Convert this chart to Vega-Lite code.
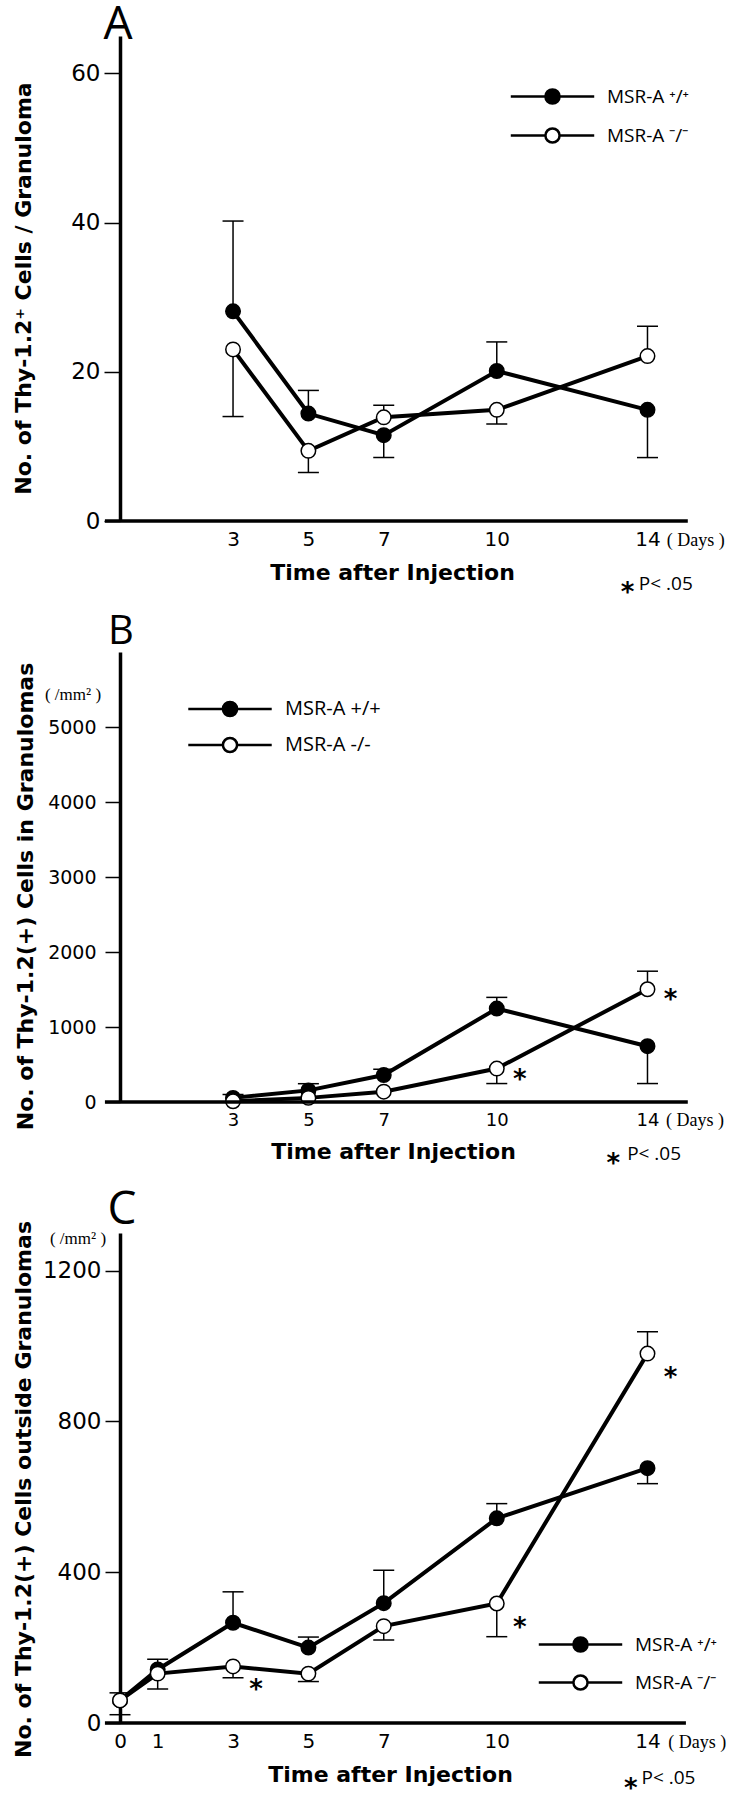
{
  "$schema": "https://vega.github.io/schema/vega-lite/v6.json",
  "background": "white",
  "padding": {"left": 11, "top": 2, "right": 0, "bottom": 0},
  "config": {
    "view": {"stroke": null},
    "font": "DejaVu Sans",
    "axis": {"grid": false, "domainColor": "black", "tickColor": "black", "labelColor": "black", "titleColor": "black"},
    "legend": {"padding": 0}
  },
  "datasets": {
    "A": [
      {"day": 3, "series": "+/+", "value": 28.1, "err": 40.2, "sig": false},
      {"day": 5, "series": "+/+", "value": 14.4, "err": 17.5, "sig": false},
      {"day": 7, "series": "+/+", "value": 11.5, "err": 8.5, "sig": false},
      {"day": 10, "series": "+/+", "value": 20.1, "err": 24.0, "sig": false},
      {"day": 14, "series": "+/+", "value": 14.9, "err": 8.5, "sig": false},
      {"day": 3, "series": "-/-", "value": 23.0, "err": 14.0, "sig": false},
      {"day": 5, "series": "-/-", "value": 9.4, "err": 6.5, "sig": false},
      {"day": 7, "series": "-/-", "value": 13.9, "err": 15.5, "sig": false},
      {"day": 10, "series": "-/-", "value": 14.9, "err": 13.0, "sig": false},
      {"day": 14, "series": "-/-", "value": 22.1, "err": 26.1, "sig": false}
    ],
    "B": [
      {"day": 3, "series": "+/+", "value": 55, "err": 100, "sig": false},
      {"day": 5, "series": "+/+", "value": 155, "err": 244, "sig": false},
      {"day": 7, "series": "+/+", "value": 359, "err": 436, "sig": false},
      {"day": 10, "series": "+/+", "value": 1246, "err": 1395, "sig": false},
      {"day": 14, "series": "+/+", "value": 744, "err": 246, "sig": false},
      {"day": 3, "series": "-/-", "value": 10, "err": null, "sig": false},
      {"day": 5, "series": "-/-", "value": 55, "err": null, "sig": false},
      {"day": 7, "series": "-/-", "value": 138, "err": null, "sig": false},
      {"day": 10, "series": "-/-", "value": 446, "err": 246, "sig": true},
      {"day": 14, "series": "-/-", "value": 1503, "err": 1744, "sig": true}
    ],
    "C": [
      {"day": 0, "series": "+/+", "value": 60, "err": 80, "sig": false},
      {"day": 1, "series": "+/+", "value": 142, "err": 169, "sig": false},
      {"day": 3, "series": "+/+", "value": 266, "err": 348, "sig": false},
      {"day": 5, "series": "+/+", "value": 200, "err": 228, "sig": false},
      {"day": 7, "series": "+/+", "value": 318, "err": 405, "sig": false},
      {"day": 10, "series": "+/+", "value": 543, "err": 582, "sig": false},
      {"day": 14, "series": "+/+", "value": 676, "err": 635, "sig": false},
      {"day": 0, "series": "-/-", "value": 60, "err": 22, "sig": false},
      {"day": 1, "series": "-/-", "value": 131, "err": 90, "sig": false},
      {"day": 3, "series": "-/-", "value": 150, "err": 120, "sig": true},
      {"day": 5, "series": "-/-", "value": 131, "err": 110, "sig": false},
      {"day": 7, "series": "-/-", "value": 257, "err": 220, "sig": false},
      {"day": 10, "series": "-/-", "value": 317, "err": 229, "sig": true},
      {"day": 14, "series": "-/-", "value": 980, "err": 1038, "sig": true}
    ]
  },
  "bounds": "flush",
  "spacing": 131,
  "resolve": {"scale": {"fill": "independent"}, "legend": {"fill": "independent"}},
  "vconcat": [
    {
      "width": 584,
      "height": 485,
      "data": {"name": "A"},
      "encoding": {
        "x": {"field": "day", "type": "quantitative", "scale": {"domain": [0, 15.5], "nice": false, "zero": false},
          "axis": {"values": [3, 5, 7, 10, 14], "domain": false, "ticks": false, "labelFont": "DejaVu Sans", "labelFontSize": 20, "labelPadding": 8, "labelFlush": false, "labelOverlap": false,
            "title": "Time after Injection", "titleFont": "DejaVu Sans", "titleFontWeight": "bold", "titleFontSize": 22, "titleX": 272, "titleY": 58, "titleBaseline": "alphabetic"}},
        "y": {"field": "value", "type": "quantitative", "scale": {"domain": [0, 65], "nice": false},
          "axis": {"values": [0, 20, 40, 60], "format": "d", "domainWidth": 3.5, "tickSize": 16, "tickWidth": 1.5, "labelFont": "DejaVu Sans", "labelFontSize": 23, "labelPadding": 4,
            "title": "No. of Thy-1.2⁺ Cells / Granuloma", "titleFont": "DejaVu Sans", "titleFontWeight": "bold", "titleFontSize": 22, "titleX": -90, "titleY": 252, "titleBaseline": "alphabetic"}}
      },
      "layer": [
        {"transform": [{"filter": "datum.err != null"}], "mark": {"type": "rule", "strokeWidth": 1.5, "color": "black"},
          "encoding": {"y2": {"field": "err"}}},
        {"transform": [{"filter": "datum.err != null"}], "mark": {"type": "tick", "orient": "horizontal", "size": 21, "thickness": 1.5, "color": "black", "opacity": 1},
          "encoding": {"y": {"field": "err", "type": "quantitative"}}},
        {"mark": {"type": "line", "strokeWidth": 4, "color": "black"}, "encoding": {"detail": {"field": "series"}}},
        {"mark": {"type": "point", "shape": "circle", "filled": true, "stroke": "black", "strokeWidth": 1.5, "size": 210, "opacity": 1},
          "encoding": {"fill": {"field": "series", "type": "nominal", "scale": {"domain": ["+/+", "-/-"], "range": ["black", "white"]},
            "legend": {"orient": "none", "legendX": 423, "legendY": 51, "title": null, "direction": "vertical",
              "symbolType": "M-5.9,0H-1M1,0H5.9M1,0A1,1,0,1,1,-1,0A1,1,0,1,1,1,0Z", "symbolSize": 200, "symbolStrokeColor": "black", "symbolStrokeWidth": 2.5,
              "labelFont": "Open Sans", "labelFontSize": 19, "labelColor": "black", "labelOffset": 45, "rowPadding": 14,
              "labelExpr": "'MSR-A ' + (datum.label == '+/+' ? '⁺/⁺' : '⁻/⁻')"}}}},
        {"transform": [{"filter": "datum.day == 3 && datum.series == '+/+'"}], "mark": {"type": "rule", "strokeWidth": 3.5, "color": "black"},
          "encoding": {"x": {"datum": -0.4}, "x2": {"datum": 15.07}, "y": {"datum": 0}}},
        {"transform": [{"filter": "datum.day == 3 && datum.series == '+/+'"}], "mark": {"type": "text", "text": "A", "font": "Open Sans", "fontSize": 46, "dx": -2, "dy": 3, "align": "center", "baseline": "alphabetic", "color": "black"},
          "encoding": {"x": {"datum": 0}, "y": {"datum": 65}}},
        {"transform": [{"filter": "datum.day == 3 && datum.series == '+/+'"}], "mark": {"type": "text", "text": "( Days )", "font": "Liberation Serif", "fontSize": 18, "dy": 20, "align": "center", "baseline": "middle", "color": "black"},
          "encoding": {"x": {"datum": 15.28}, "y": {"datum": 0}}},
        {"transform": [{"filter": "datum.day == 3 && datum.series == '+/+'"}], "mark": {"type": "text", "text": "*", "font": "DejaVu Sans", "fontWeight": "bold", "fontSize": 26, "dy": 72, "align": "center", "baseline": "middle", "color": "black"},
          "encoding": {"x": {"datum": 13.47}, "y": {"datum": 0}}},
        {"transform": [{"filter": "datum.day == 3 && datum.series == '+/+'"}], "mark": {"type": "text", "text": "P< .05", "font": "Open Sans", "fontSize": 19, "dy": 63, "align": "left", "baseline": "middle", "color": "black"},
          "encoding": {"x": {"datum": 13.77}, "y": {"datum": 0}}}
      ]
    },
    {
      "width": 584,
      "height": 450,
      "data": {"name": "B"},
      "encoding": {
        "x": {"field": "day", "type": "quantitative", "scale": {"domain": [0, 15.5], "nice": false, "zero": false},
          "axis": {"values": [3, 5, 7, 10, 14], "domain": false, "ticks": false, "labelFont": "DejaVu Sans", "labelFontSize": 18, "labelPadding": 9, "labelFlush": false, "labelOverlap": false,
            "title": "Time after Injection", "titleFont": "DejaVu Sans", "titleFontWeight": "bold", "titleFontSize": 22, "titleX": 273, "titleY": 56, "titleBaseline": "alphabetic"}},
        "y": {"field": "value", "type": "quantitative", "scale": {"domain": [0, 6000], "nice": false},
          "axis": {"values": [0, 1000, 2000, 3000, 4000, 5000], "format": "d", "domainWidth": 3.5, "tickSize": 15, "tickWidth": 1.5, "labelFont": "DejaVu Sans", "labelFontSize": 19, "labelPadding": 9,
            "title": "No. of Thy-1.2(+) Cells in Granulomas", "titleFont": "DejaVu Sans", "titleFontWeight": "bold", "titleFontSize": 22, "titleX": -88, "titleY": 244, "titleBaseline": "alphabetic"}}
      },
      "layer": [
        {"transform": [{"filter": "datum.err != null"}], "mark": {"type": "rule", "strokeWidth": 1.5, "color": "black"},
          "encoding": {"y2": {"field": "err"}}},
        {"transform": [{"filter": "datum.err != null"}], "mark": {"type": "tick", "orient": "horizontal", "size": 21, "thickness": 1.5, "color": "black", "opacity": 1},
          "encoding": {"y": {"field": "err", "type": "quantitative"}}},
        {"mark": {"type": "line", "strokeWidth": 4, "color": "black"}, "encoding": {"detail": {"field": "series"}}},
        {"mark": {"type": "point", "shape": "circle", "filled": true, "stroke": "black", "strokeWidth": 1.5, "size": 210, "opacity": 1},
          "encoding": {"fill": {"field": "series", "type": "nominal", "scale": {"domain": ["+/+", "-/-"], "range": ["black", "white"]},
            "legend": {"orient": "none", "legendX": 100, "legendY": 47, "title": null, "direction": "vertical",
              "symbolType": "M-5.9,0H-1M1,0H5.9M1,0A1,1,0,1,1,-1,0A1,1,0,1,1,1,0Z", "symbolSize": 200, "symbolStrokeColor": "black", "symbolStrokeWidth": 2.5,
              "labelFont": "Open Sans", "labelFontSize": 20, "labelColor": "black", "labelOffset": 45, "rowPadding": 10,
              "labelExpr": "'MSR-A ' + datum.label"}}}},
        {"transform": [{"filter": "datum.sig"}], "mark": {"type": "text", "text": "*", "font": "DejaVu Sans", "fontWeight": "bold", "fontSize": 26, "dx": 23, "dy": 11, "align": "center", "baseline": "middle", "color": "black"}},
        {"transform": [{"filter": "datum.day == 3 && datum.series == '+/+'"}], "mark": {"type": "rule", "strokeWidth": 3.5, "color": "black"},
          "encoding": {"x": {"datum": -0.4}, "x2": {"datum": 15.07}, "y": {"datum": 0}}},
        {"transform": [{"filter": "datum.day == 3 && datum.series == '+/+'"}], "mark": {"type": "text", "text": "B", "font": "Open Sans", "fontSize": 40, "dx": 1, "dy": -8, "align": "center", "baseline": "alphabetic", "color": "black"},
          "encoding": {"x": {"datum": 0}, "y": {"datum": 6000}}},
        {"transform": [{"filter": "datum.day == 3 && datum.series == '+/+'"}], "mark": {"type": "text", "text": "( Days )", "font": "Liberation Serif", "fontSize": 18, "dy": 19, "align": "center", "baseline": "middle", "color": "black"},
          "encoding": {"x": {"datum": 15.26}, "y": {"datum": 0}}},
        {"transform": [{"filter": "datum.day == 3 && datum.series == '+/+'"}], "mark": {"type": "text", "text": "( /mm² )", "font": "Liberation Serif", "fontSize": 17, "dx": -47, "align": "center", "baseline": "middle", "color": "black"},
          "encoding": {"x": {"datum": 0}, "y": {"datum": 5421}}},
        {"transform": [{"filter": "datum.day == 3 && datum.series == '+/+'"}], "mark": {"type": "text", "text": "*", "font": "DejaVu Sans", "fontWeight": "bold", "fontSize": 26, "dy": 62, "align": "center", "baseline": "middle", "color": "black"},
          "encoding": {"x": {"datum": 13.09}, "y": {"datum": 0}}},
        {"transform": [{"filter": "datum.day == 3 && datum.series == '+/+'"}], "mark": {"type": "text", "text": "P< .05", "font": "Open Sans", "fontSize": 19, "dy": 52, "align": "left", "baseline": "middle", "color": "black"},
          "encoding": {"x": {"datum": 13.46}, "y": {"datum": 0}}}
      ]
    },
    {
      "width": 584,
      "height": 490,
      "data": {"name": "C"},
      "encoding": {
        "x": {"field": "day", "type": "quantitative", "scale": {"domain": [0, 15.5], "nice": false, "zero": false},
          "axis": {"values": [0, 1, 3, 5, 7, 10, 14], "domain": false, "ticks": false, "labelFont": "DejaVu Sans", "labelFontSize": 20, "labelPadding": 8, "labelFlush": false, "labelOverlap": false,
            "title": "Time after Injection", "titleFont": "DejaVu Sans", "titleFontWeight": "bold", "titleFontSize": 22, "titleX": 270, "titleY": 58, "titleBaseline": "alphabetic"}},
        "y": {"field": "value", "type": "quantitative", "scale": {"domain": [0, 1300], "nice": false},
          "axis": {"values": [0, 400, 800, 1200], "format": "d", "domainWidth": 3.5, "tickSize": 15, "tickWidth": 1.5, "labelFont": "DejaVu Sans", "labelFontSize": 23, "labelPadding": 4,
            "title": "No. of Thy-1.2(+) Cells outside Granulomas", "titleFont": "DejaVu Sans", "titleFontWeight": "bold", "titleFontSize": 22, "titleX": -90, "titleY": 256, "titleBaseline": "alphabetic"}}
      },
      "layer": [
        {"transform": [{"filter": "datum.err != null"}], "mark": {"type": "rule", "strokeWidth": 1.5, "color": "black"},
          "encoding": {"y2": {"field": "err"}}},
        {"transform": [{"filter": "datum.err != null"}], "mark": {"type": "tick", "orient": "horizontal", "size": 21, "thickness": 1.5, "color": "black", "opacity": 1},
          "encoding": {"y": {"field": "err", "type": "quantitative"}}},
        {"mark": {"type": "line", "strokeWidth": 4, "color": "black"}, "encoding": {"detail": {"field": "series"}}},
        {"mark": {"type": "point", "shape": "circle", "filled": true, "stroke": "black", "strokeWidth": 1.5, "size": 210, "opacity": 1},
          "encoding": {"fill": {"field": "series", "type": "nominal", "scale": {"domain": ["+/+", "-/-"], "range": ["black", "white"]},
            "legend": {"orient": "none", "legendX": 451, "legendY": 402, "title": null, "direction": "vertical",
              "symbolType": "M-5.9,0H-1M1,0H5.9M1,0A1,1,0,1,1,-1,0A1,1,0,1,1,1,0Z", "symbolSize": 200, "symbolStrokeColor": "black", "symbolStrokeWidth": 2.5,
              "labelFont": "Open Sans", "labelFontSize": 19, "labelColor": "black", "labelOffset": 45, "rowPadding": 13,
              "labelExpr": "'MSR-A ' + (datum.label == '+/+' ? '⁺/⁺' : '⁻/⁻')"}}}},
        {"transform": [{"filter": "datum.sig"}], "mark": {"type": "text", "text": "*", "font": "DejaVu Sans", "fontWeight": "bold", "fontSize": 26, "dx": 23, "dy": 24, "align": "center", "baseline": "middle", "color": "black"}},
        {"transform": [{"filter": "datum.day == 0 && datum.series == '+/+'"}], "mark": {"type": "rule", "strokeWidth": 3.5, "color": "black"},
          "encoding": {"x": {"datum": -0.4}, "x2": {"datum": 15.02}, "y": {"datum": 0}}},
        {"transform": [{"filter": "datum.day == 0 && datum.series == '+/+'"}], "mark": {"type": "text", "text": "C", "font": "Open Sans", "fontSize": 46, "dx": 2, "dy": -9, "align": "center", "baseline": "alphabetic", "color": "black"},
          "encoding": {"x": {"datum": 0}, "y": {"datum": 1300}}},
        {"transform": [{"filter": "datum.day == 0 && datum.series == '+/+'"}], "mark": {"type": "text", "text": "( Days )", "font": "Liberation Serif", "fontSize": 18, "dy": 20, "align": "center", "baseline": "middle", "color": "black"},
          "encoding": {"x": {"datum": 15.32}, "y": {"datum": 0}}},
        {"transform": [{"filter": "datum.day == 0 && datum.series == '+/+'"}], "mark": {"type": "text", "text": "( /mm² )", "font": "Liberation Serif", "fontSize": 17, "dx": -42, "align": "center", "baseline": "middle", "color": "black"},
          "encoding": {"x": {"datum": 0}, "y": {"datum": 1285}}},
        {"transform": [{"filter": "datum.day == 0 && datum.series == '+/+'"}], "mark": {"type": "text", "text": "*", "font": "DejaVu Sans", "fontWeight": "bold", "fontSize": 26, "dy": 66, "align": "center", "baseline": "middle", "color": "black"},
          "encoding": {"x": {"datum": 13.56}, "y": {"datum": 0}}},
        {"transform": [{"filter": "datum.day == 0 && datum.series == '+/+'"}], "mark": {"type": "text", "text": "P< .05", "font": "Open Sans", "fontSize": 19, "dy": 55, "align": "left", "baseline": "middle", "color": "black"},
          "encoding": {"x": {"datum": 13.84}, "y": {"datum": 0}}}
      ]
    }
  ]
}
